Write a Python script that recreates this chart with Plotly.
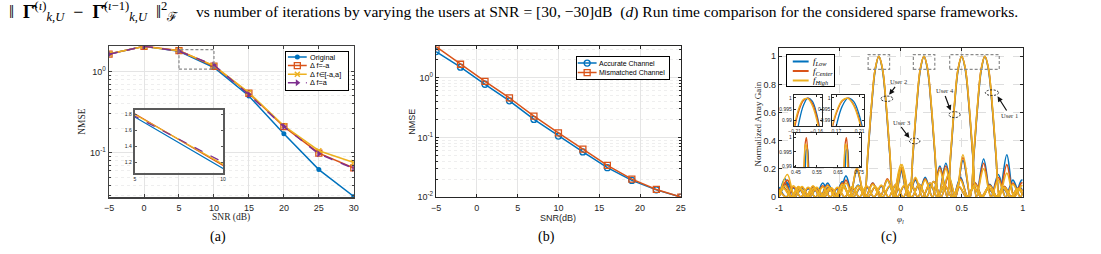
import numpy as np
import plotly.graph_objects as go

# ---------------- data: panel (a) ----------------
snr_a = [-5, 0, 5, 10, 15, 20, 25, 30]
nmse_original = [1.64, 2.04, 1.77, 1.12, 0.50, 0.171, 0.062, 0.029]
nmse_f_neg = [1.64, 2.04, 1.81, 1.16, 0.54, 0.21, 0.099, 0.065]
nmse_f_range = [1.65, 2.03, 1.80, 1.18, 0.55, 0.215, 0.106, 0.076]
nmse_f_pos = [1.63, 2.04, 1.78, 1.20, 0.52, 0.21, 0.097, 0.064]
labels_a = ["Original", "Δ f=-a", "Δ f∈[-a,a]", "Δ f=a"]

# ---------------- data: panel (b) ----------------
snr_b = [-5, -2, 1, 4, 7, 10, 13, 16, 19, 22, 25]
nmse_accurate = [2.74, 1.50, 0.776, 0.41, 0.20, 0.105, 0.057, 0.031, 0.019, 0.0132, 0.0100]
nmse_mismatched = [3.31, 1.68, 0.87, 0.458, 0.227, 0.119, 0.0636, 0.0339, 0.020, 0.0134, 0.0100]
labels_b = ["Accurate Channel", "Mismatched Channel"]

# ---------------- data: panel (c) ----------------
# user beam at phi = -0.18
phi_u2 = [-1.0, -0.96, -0.90, -0.84, -0.78, -0.72, -0.66, -0.60, -0.54, -0.48, -0.42, -0.36, -0.30,
          -0.27, -0.24, -0.21, -0.18, -0.15, -0.12, -0.09, -0.06, 0.0, 0.06, 0.12, 0.18, 0.24, 0.30,
          0.36, 0.42, 0.48, 0.54, 0.60, 0.66, 0.72, 0.78, 0.84, 0.90, 0.96, 1.0]
gain_u2_low = [0.05, 0.07, 0, 0.065, 0, 0.07, 0, 0.10, 0, 0.11, 0, 0.19, 0, 0.30, 0.64, 0.90, 1.0, 0.90,
               0.64, 0.30, 0, 0.19, 0, 0.12, 0, 0.09, 0, 0.08, 0, 0.07, 0, 0.065, 0, 0.06, 0, 0.06, 0, 0.06, 0.02]
gain_u2_ctr = [0.04, 0.065, 0, 0.07, 0, 0.075, 0, 0.085, 0, 0.10, 0, 0.20, 0, 0.31, 0.65, 0.91, 1.0, 0.91,
               0.65, 0.31, 0, 0.21, 0, 0.13, 0, 0.10, 0, 0.085, 0, 0.07, 0, 0.07, 0, 0.065, 0, 0.065, 0, 0.06, 0.02]
gain_u2_high = [0.03, 0.06, 0, 0.075, 0, 0.08, 0, 0.08, 0, 0.09, 0, 0.21, 0, 0.32, 0.66, 0.91, 1.0, 0.91,
                0.66, 0.32, 0, 0.23, 0, 0.14, 0, 0.10, 0, 0.08, 0, 0.075, 0, 0.065, 0, 0.07, 0, 0.065, 0, 0.06, 0.02]
# user beam at phi = 0.19
phi_u3 = [-1.0, -0.95, -0.89, -0.83, -0.77, -0.71, -0.65, -0.59, -0.53, -0.47, -0.41, -0.35, -0.29, -0.23,
          -0.17, -0.11, -0.05, 0.01, 0.07, 0.10, 0.13, 0.16, 0.19, 0.22, 0.25, 0.28, 0.31, 0.37, 0.43, 0.49,
          0.55, 0.61, 0.67, 0.73, 0.79, 0.85, 0.91, 0.97, 1.0]
gain_u3_low = [0, 0.13, 0, 0.06, 0, 0.06, 0, 0.07, 0, 0.07, 0, 0.085, 0, 0.10, 0, 0.12, 0, 0.19, 0, 0.30,
               0.64, 0.90, 1.0, 0.90, 0.64, 0.30, 0, 0.24, 0, 0.14, 0, 0.10, 0, 0.09, 0, 0.075, 0, 0.07, 0.05]
gain_u3_ctr = [0, 0.10, 0, 0.065, 0, 0.06, 0, 0.065, 0, 0.075, 0, 0.08, 0, 0.10, 0, 0.13, 0, 0.21, 0, 0.31,
               0.65, 0.91, 1.0, 0.91, 0.65, 0.31, 0, 0.22, 0, 0.13, 0, 0.10, 0, 0.085, 0, 0.075, 0, 0.065, 0.04]
gain_u3_high = [0, 0.08, 0, 0.07, 0, 0.065, 0, 0.06, 0, 0.08, 0, 0.08, 0, 0.09, 0, 0.12, 0, 0.23, 0, 0.32,
                0.66, 0.91, 1.0, 0.91, 0.66, 0.32, 0, 0.20, 0, 0.12, 0, 0.09, 0, 0.08, 0, 0.07, 0, 0.06, 0.04]
# user beam at phi = 0.50
phi_u4 = [-1.0, -0.94, -0.88, -0.82, -0.76, -0.70, -0.64, -0.58, -0.52, -0.46, -0.40, -0.34, -0.28, -0.22,
          -0.16, -0.10, -0.04, 0.02, 0.08, 0.14, 0.20, 0.26, 0.32, 0.38, 0.41, 0.44, 0.47, 0.50, 0.53, 0.56,
          0.59, 0.62, 0.68, 0.74, 0.80, 0.86, 0.92, 0.98, 1.0]
gain_u4_low = [0.07, 0, 0.065, 0, 0.06, 0, 0.10, 0, 0.06, 0, 0.065, 0, 0.07, 0, 0.075, 0, 0.085, 0, 0.10, 0,
               0.14, 0, 0.22, 0, 0.30, 0.64, 0.90, 1.0, 0.90, 0.64, 0.30, 0, 0.27, 0, 0.16, 0, 0.12, 0, 0.03]
gain_u4_ctr = [0.06, 0, 0.07, 0, 0.065, 0, 0.08, 0, 0.065, 0, 0.07, 0, 0.075, 0, 0.08, 0, 0.09, 0, 0.10, 0,
               0.13, 0, 0.21, 0, 0.31, 0.65, 0.91, 1.0, 0.91, 0.65, 0.31, 0, 0.24, 0, 0.14, 0, 0.10, 0, 0.03]
gain_u4_high = [0.05, 0, 0.08, 0, 0.07, 0, 0.07, 0, 0.07, 0, 0.075, 0, 0.08, 0, 0.085, 0, 0.09, 0, 0.10, 0,
                0.12, 0, 0.19, 0, 0.32, 0.66, 0.91, 1.0, 0.91, 0.66, 0.32, 0, 0.20, 0, 0.12, 0, 0.09, 0, 0.03]
# user beam at phi = 0.69
phi_u1 = [-1.0, -0.93, -0.87, -0.81, -0.75, -0.69, -0.63, -0.57, -0.51, -0.45, -0.39, -0.33, -0.27, -0.21,
          -0.15, -0.09, -0.03, 0.03, 0.09, 0.15, 0.21, 0.27, 0.33, 0.39, 0.45, 0.51, 0.57, 0.60, 0.63, 0.66,
          0.69, 0.72, 0.75, 0.78, 0.81, 0.87, 0.93, 0.99, 1.0]
gain_u1_low = [0, 0.10, 0, 0.065, 0, 0.06, 0, 0.06, 0, 0.15, 0, 0.065, 0, 0.07, 0, 0.075, 0, 0.08, 0, 0.09,
               0, 0.11, 0, 0.15, 0, 0.26, 0, 0.30, 0.64, 0.90, 1.0, 0.90, 0.64, 0.30, 0, 0.30, 0, 0.12, 0.12]
gain_u1_ctr = [0, 0.12, 0, 0.07, 0, 0.065, 0, 0.06, 0, 0.12, 0, 0.07, 0, 0.07, 0, 0.08, 0, 0.08, 0, 0.09,
               0, 0.11, 0, 0.14, 0, 0.28, 0, 0.31, 0.65, 0.91, 1.0, 0.91, 0.65, 0.31, 0, 0.23, 0, 0.10, 0.10]
gain_u1_high = [0, 0.16, 0, 0.075, 0, 0.07, 0, 0.065, 0, 0.10, 0, 0.075, 0, 0.075, 0, 0.08, 0, 0.085, 0, 0.09,
                0, 0.11, 0, 0.16, 0, 0.30, 0, 0.32, 0.66, 0.91, 1.0, 0.91, 0.66, 0.32, 0, 0.17, 0, 0.08, 0.08]

# zoomed peak samples for the insets of panel (c)
zoom1_phi = [-0.22, -0.21, -0.20, -0.19, -0.18, -0.17, -0.16, -0.15, -0.14]
zoom1_low = [0.9612, 0.9775, 0.9894, 0.9968, 0.9999, 0.9986, 0.9929, 0.9828, 0.9682]
zoom1_ctr = [0.976, 0.987, 0.9946, 0.9989, 0.9999, 0.9976, 0.9919, 0.9829, 0.9706]
zoom1_high = [0.9784, 0.9887, 0.9957, 0.9994, 0.9997, 0.9967, 0.9904, 0.9807, 0.9677]
zoom2_phi = [0.16, 0.17, 0.18, 0.19, 0.20, 0.21, 0.22]
zoom2_low = [0.9744, 0.9879, 0.9964, 0.9999, 0.9984, 0.9919, 0.9804]
zoom2_ctr = [0.9839, 0.9933, 0.9987, 0.9999, 0.997, 0.99, 0.979]
zoom2_high = [0.985, 0.994, 0.999, 0.9998, 0.9965, 0.9891, 0.9776]
zoom3_phi = [0.48, 0.485, 0.49, 0.495, 0.50, 0.505, 0.51, 0.515, 0.52, 0.60,
             0.67, 0.675, 0.68, 0.685, 0.69, 0.695, 0.70, 0.705, 0.71]
zoom3_low = [0.942, 0.963, 0.979, 0.990, 0.9956, 0.9961, 0.9914, 0.9815, 0.966, 0.3,
             0.942, 0.963, 0.979, 0.990, 0.9956, 0.9961, 0.9914, 0.9815, 0.966]
zoom3_ctr = [0.962, 0.9796, 0.9916, 0.9983, 0.9999, 0.9963, 0.9874, 0.9734, 0.954, 0.3,
             0.962, 0.9796, 0.9916, 0.9983, 0.9999, 0.9963, 0.9874, 0.9734, 0.954]
zoom3_high = [0.968, 0.9832, 0.9929, 0.9976, 0.9971, 0.9913, 0.9804, 0.9643, 0.943, 0.3,
              0.968, 0.9832, 0.9929, 0.9976, 0.9971, 0.9913, 0.9804, 0.9643, 0.943]
labels_c = ["<i>f</i><sub><i>Low</i></sub>", "<i>f</i><sub><i>Center</i></sub>", "<i>f</i><sub><i>High</i></sub>"]
user_labels = ["User 2", "User 3", "User 4", "User 1"]

# ---------------- styles ----------------
W, H = 1101, 254
BLUE, ORANGE, YELLOW, PURPLE = "#0072BD", "#D95319", "#EDB120", "#7E2F8E"
SANS = "Liberation Sans, Arial, sans-serif"
SERIF = "Liberation Serif, Times New Roman, serif"
TXT = "#262626"


def xd(a, b):
    return [a / W, b / W]


def yd(top, bottom):
    return [1 - bottom / H, 1 - top / H]


fig = go.Figure()

# ---- panel (a)
series_a = [
    (nmse_original, BLUE, "solid", dict(symbol="circle", size=5, color=BLUE)),
    (nmse_f_neg, ORANGE, "solid", dict(symbol="square-open", size=6, color=ORANGE, line=dict(width=1.3))),
    (nmse_f_range, YELLOW, "solid", dict(symbol="x-thin-open", size=5, color=YELLOW, line=dict(width=1.5, color=YELLOW))),
    (nmse_f_pos, PURPLE, "dash", dict(symbol="triangle-right", size=6, color=PURPLE)),
]
for ys, col, dash, mk in series_a:
    fig.add_trace(go.Scatter(x=snr_a, y=ys, mode="lines+markers", xaxis="x", yaxis="y",
                             line=dict(color=col, width=1.5, dash=dash), marker=mk,
                             showlegend=False, hoverinfo="skip"))
for ys, col, dash, mk in series_a:
    fig.add_trace(go.Scatter(x=snr_a, y=ys, mode="lines", xaxis="x4", yaxis="y4",
                             line=dict(color=col, width=1.2, dash=dash),
                             showlegend=False, hoverinfo="skip"))

# ---- panel (b)
series_b = [
    (nmse_accurate, BLUE, dict(symbol="circle-open", size=6, color=BLUE, line=dict(width=1.3))),
    (nmse_mismatched, ORANGE, dict(symbol="square-open", size=6, color=ORANGE, line=dict(width=1.3))),
]
for ys, col, mk in series_b:
    fig.add_trace(go.Scatter(x=snr_b, y=ys, mode="lines+markers", xaxis="x2", yaxis="y2",
                             line=dict(color=col, width=1.5), marker=mk,
                             showlegend=False, hoverinfo="skip"))

# ---- panel (c)
beams = [
    (phi_u2, [gain_u2_low, gain_u2_ctr, gain_u2_high]),
    (phi_u3, [gain_u3_low, gain_u3_ctr, gain_u3_high]),
    (phi_u4, [gain_u4_low, gain_u4_ctr, gain_u4_high]),
    (phi_u1, [gain_u1_low, gain_u1_ctr, gain_u1_high]),
]
cols_c = [BLUE, ORANGE, YELLOW]
for k, col in enumerate(cols_c):
    for phi, gains in beams:
        fig.add_trace(go.Scatter(x=phi, y=gains[k], mode="lines", xaxis="x3", yaxis="y3",
                                 line=dict(color=col, width=1.6, shape="spline", smoothing=1.0),
                                 showlegend=False, hoverinfo="skip"))
zooms = [
    ("5", zoom1_phi, [zoom1_low, zoom1_ctr, zoom1_high]),
    ("6", zoom2_phi, [zoom2_low, zoom2_ctr, zoom2_high]),
    ("7", zoom3_phi, [zoom3_low, zoom3_ctr, zoom3_high]),
]
for ax_id, phi, gains in zooms:
    for k, col in enumerate(cols_c):
        fig.add_trace(go.Scatter(x=phi, y=gains[k], mode="lines", xaxis="x" + ax_id, yaxis="y" + ax_id,
                                 line=dict(color=col, width=1.3, shape="spline"),
                                 showlegend=False, hoverinfo="skip"))

# ---- hand-built legends (small subplots, local pixel coordinates)
leg_a_rows = [5.5, 14.2, 23.0, 31.8]
for (ys, col, dash, mk), row in zip(series_a, leg_a_rows):
    fig.add_trace(go.Scatter(x=[1.5, 20.5], y=[row, row], mode="lines", xaxis="x8", yaxis="y8",
                             line=dict(color=col, width=1.5, dash=dash), showlegend=False, hoverinfo="skip"))
    fig.add_trace(go.Scatter(x=[11], y=[row], mode="markers", xaxis="x8", yaxis="y8",
                             marker=mk, showlegend=False, hoverinfo="skip"))
leg_b_rows = [6.3, 16.0]
for (ys, col, mk), row in zip(series_b, leg_b_rows):
    fig.add_trace(go.Scatter(x=[1.0, 20.0], y=[row, row], mode="lines", xaxis="x9", yaxis="y9",
                             line=dict(color=col, width=1.5), showlegend=False, hoverinfo="skip"))
    fig.add_trace(go.Scatter(x=[10.5], y=[row], mode="markers", xaxis="x9", yaxis="y9",
                             marker=mk, showlegend=False, hoverinfo="skip"))
leg_c_rows = [6.7, 16.5, 26.0]
for col, row in zip(cols_c, leg_c_rows):
    fig.add_trace(go.Scatter(x=[6, 22], y=[row, row], mode="lines", xaxis="x10", yaxis="y10",
                             line=dict(color=col, width=2), showlegend=False, hoverinfo="skip"))

# ---------------- axes ----------------
tickfont = dict(family=SANS, size=9, color=TXT)
smallfont = dict(family=SANS, size=5, color=TXT)


def frame(dom, rng, linecolor=TXT, lw=1.0, **kw):
    d = dict(domain=dom, range=rng, showline=True, linecolor=linecolor, linewidth=lw, mirror="ticks",
             ticks="inside", ticklen=3, tickcolor=linecolor, tickwidth=1, zeroline=False,
             fixedrange=True, tickfont=tickfont)
    d.update(kw)
    return d


minor_a = [0.03, 0.04, 0.05, 0.06, 0.07, 0.08, 0.09, 0.2, 0.3, 0.4, 0.5, 0.6, 0.7, 0.8, 0.9, 2]
minor_b = [0.02, 0.03, 0.04, 0.05, 0.06, 0.07, 0.08, 0.09, 0.2, 0.3, 0.4, 0.5, 0.6, 0.7, 0.8, 0.9, 2, 3]
GRID = "#e4e4e4"

layout_axes = dict(
    xaxis=frame(xd(105, 352), [-5, 30], linecolor="#404040", lw=1.5, anchor="y", ticklabelstandoff=2,
                tickvals=[-5, 0, 5, 10, 15, 20, 25, 30], showgrid=True, gridcolor=GRID),
    yaxis=frame(yd(47, 201), [-1.545, 0.313], linecolor="#404040", lw=1.5, anchor="x", type="log",
                tickvals=[0.1, 1], ticktext=["10<sup>-1</sup>", "10<sup>0</sup>"], showgrid=True, gridcolor=GRID,
                minor=dict(tickvals=minor_a, ticks="inside", ticklen=2, tickcolor="#404040",
                           showgrid=True, gridcolor="#eeeeee", griddash="dot")),
    xaxis2=frame(xd(435, 682), [-5, 25], anchor="y2", tickvals=[-5, 0, 5, 10, 15, 20, 25],
                 showgrid=True, gridcolor=GRID, lw=1.2, ticklabelstandoff=2),
    yaxis2=frame(yd(47, 201), [-2, 0.53], anchor="x2", type="log", lw=1.2,
                 tickvals=[0.01, 0.1, 1], ticktext=["10<sup>-2</sup>", "10<sup>-1</sup>", "10<sup>0</sup>"],
                 showgrid=True, gridcolor=GRID,
                 minor=dict(tickvals=minor_b, ticks="inside", ticklen=2, tickcolor=TXT,
                            showgrid=True, gridcolor="#eeeeee", griddash="dot")),
    xaxis3=frame(xd(781, 1027), [-1, 1], anchor="y3", tickvals=[-1, -0.5, 0, 0.5, 1], ticklabelstandoff=2,
                 ticktext=["-1", "-0.5", "0", "0.5", "1"], showgrid=True, gridcolor="#dedede", griddash="dash"),
    yaxis3=frame(yd(49, 201), [0, 1.058], anchor="x3", tickvals=[0, 0.2, 0.4, 0.6, 0.8, 1],
                 ticktext=["0", "0.2", "0.4", "0.6", "0.8", "1"], showgrid=True, gridcolor="#dedede", griddash="dash"),
    # inset (a)
    xaxis4=frame(xd(131, 220), [5, 10], linecolor="#5a5a5a", lw=2, anchor="y4", tickvals=[5, 10],
                 tickfont=smallfont, ticklen=2, showgrid=False),
    yaxis4=frame(yd(112, 176), [1.07, 1.86], linecolor="#5a5a5a", lw=2, anchor="x4",
                 tickvals=[1.2, 1.4, 1.6, 1.8], tickfont=smallfont, ticklen=2, showgrid=False),
    # insets (c)
    xaxis5=frame(xd(796, 824), [-0.212, -0.149], anchor="y5", tickvals=[-0.21, -0.16],
                 tickfont=smallfont, ticklen=2, showgrid=False),
    yaxis5=frame(yd(96.5, 128.5), [0.9876, 1.0015], anchor="x5", tickvals=[0.99, 0.995, 1],
                 ticktext=["0.99", "0.995", "1"], tickfont=smallfont, ticklen=2, showgrid=False),
    xaxis6=frame(xd(835, 866.5), [0.163, 0.217], anchor="y6", tickvals=[0.17, 0.21],
                 tickfont=smallfont, ticklen=2, showgrid=False),
    yaxis6=frame(yd(96.5, 128.5), [0.9876, 1.0015], anchor="x6", tickvals=[0.99, 0.995, 1],
                 ticktext=["0.99", "0.995", "1"], tickfont=smallfont, ticklen=2, showgrid=False),
    xaxis7=frame(xd(796, 864), [0.44, 0.76], anchor="y7", tickvals=[0.45, 0.55, 0.65, 0.75],
                 tickfont=smallfont, ticklen=2, showgrid=False),
    yaxis7=frame(yd(135.7, 170.7), [0.9896, 1.0015], anchor="x7", tickvals=[0.99, 0.995, 1],
                 ticktext=["0.99", "0.995", "1"], tickfont=smallfont, ticklen=2, showgrid=False),
)


def legend_axes(box, xa):
    x0, y0, x1, y1 = box
    common = dict(showline=True, linecolor="#000000", linewidth=1, mirror=True, ticks="",
                  showticklabels=False, showgrid=False, zeroline=False, fixedrange=True)
    layout_axes["xaxis" + xa] = dict(domain=xd(x0, x1), range=[0, x1 - x0], anchor="y" + xa, **common)
    layout_axes["yaxis" + xa] = dict(domain=yd(y0, y1), range=[y1 - y0, 0], anchor="x" + xa, **common)


LEG_A = (284, 52.7, 346, 91.7)
LEG_B = (577, 58, 670, 80.7)
LEG_C = (789, 56, 837, 88)
legend_axes(LEG_A, "8")
legend_axes(LEG_B, "9")
legend_axes(LEG_C, "10")

annotations = []
# legend texts
for lab, row in zip(labels_a, leg_a_rows):
    annotations.append(dict(x=21.5, y=row, xref="x8", yref="y8", text=lab, showarrow=False,
                            xanchor="left", yanchor="middle", font=dict(family=SANS, size=7.3, color="#000")))
for lab, row in zip(labels_b, leg_b_rows):
    annotations.append(dict(x=20.5, y=row, xref="x9", yref="y9", text=lab, showarrow=False,
                            xanchor="left", yanchor="middle", font=dict(family=SANS, size=7.0, color="#000")))
for lab, row in zip(labels_c, leg_c_rows):
    annotations.append(dict(x=24, y=row, xref="x10", yref="y10", text=lab, showarrow=False,
                            xanchor="left", yanchor="middle", font=dict(family=SERIF, size=9, color="#000")))

SP = "\u2002"
caption_math = ("‖" + SP + "<b>Γ̂</b><sup>(<i>ι</i>)</sup><sub><i>k</i>,<i>U</i></sub>" + SP + "−" + SP
                + "<b>Γ̂</b><sup>(<i>ι</i>−1)</sup><sub><i>k</i>,<i>U</i></sub>" + SP + "‖<sup>2</sup><sub>ℱ</sub>")
caption_text = ("vs number of iterations by varying the users at SNR = [30, −30]dB  (<i>d</i>) "
                "Run time comparison for the considered sparse frameworks.")

# axis titles and captions
annotations += [
    dict(x=228.5 / W, y=1 - 222 / H, text="SNR (dB)", font=dict(family=SERIF, size=9.5, color=TXT)),
    dict(x=77 / W, y=1 - 124 / H, text="NMSE", textangle=-90, font=dict(family=SERIF, size=9.5, color=TXT)),
    dict(x=558.5 / W, y=1 - 222 / H, text="SNR(dB)", font=dict(family=SANS, size=9, color=TXT)),
    dict(x=410 / W, y=1 - 124 / H, text="NMSE", textangle=-90, font=dict(family=SANS, size=9, color=TXT)),
    dict(x=904 / W, y=1 - 224 / H, text="<i>φ<sub>l</sub></i>", font=dict(family=SERIF, size=9, color=TXT)),
    dict(x=759 / W, y=1 - 127 / H, text="Normalized Array Gain", textangle=-90,
         font=dict(family=SERIF, size=9, color=TXT)),
    dict(x=215 / W, y=1 - 242 / H, text="(a)", font=dict(family=SERIF, size=14, color="#000")),
    dict(x=546 / W, y=1 - 242 / H, text="(b)", font=dict(family=SERIF, size=14, color="#000")),
    dict(x=892 / W, y=1 - 242 / H, text="(c)", font=dict(family=SERIF, size=14, color="#000")),
    dict(x=2 / W, y=1 - 12 / H, xanchor="left", text=caption_math,
         font=dict(family=SERIF, size=18, color="#000")),
    dict(x=191 / W, y=1 - 12 / H, xanchor="left", text=caption_text,
         font=dict(family=SERIF, size=15.6, color="#000")),
]
for a in annotations:
    if "xref" not in a:
        a.update(xref="paper", yref="paper", showarrow=False)
        a.setdefault("xanchor", "center")
        a.setdefault("yanchor", "middle")

# user annotations in panel (c): text labels
user_text_pos = [(-0.019, 0.819), (0.006, 0.529), (0.360, 0.757), (0.892, 0.582)]
for lab, (px, py) in zip(user_labels, user_text_pos):
    annotations.append(dict(x=px, y=py, xref="x3", yref="y3", text=lab, showarrow=False,
                            font=dict(family=SERIF, size=6.5, color="#333")))
# arrows (head in data, tail offset in px)
arrows = [(-0.095, 0.726, 7, -9.4), (0.071, 0.42, -9.4, -12.4), (0.409, 0.614, -6, -16), (0.794, 0.715, 10, 15.7)]
for hx, hy, ax, ay in arrows:
    annotations.append(dict(x=hx, y=hy, xref="x3", yref="y3", ax=ax, ay=ay, text="", showarrow=True,
                            arrowhead=2, arrowsize=0.9, arrowwidth=1.2, arrowcolor="#111",
                            standoff=0, startstandoff=0))

shapes = []
# dashed ellipses
ellipses = [(-0.114, 0.698, 0.049, 0.019), (0.114, 0.398, 0.043, 0.02),
            (0.441, 0.585, 0.046, 0.021), (0.748, 0.741, 0.054, 0.02)]
for cx, cy, rx, ry in ellipses:
    shapes.append(dict(type="circle", xref="x3", yref="y3", x0=cx - rx, x1=cx + rx, y0=cy - ry, y1=cy + ry,
                       line=dict(color="#222", width=1, dash="2px,1.5px"), layer="above"))
# dashed zoom rectangles in panel (c)
for x0, x1 in [(-0.268, -0.092), (0.103, 0.279), (0.401, 0.808)]:
    shapes.append(dict(type="rect", xref="x3", yref="y3", x0=x0, x1=x1, y0=0.907, y1=1.011,
                       line=dict(color="#8a8a8a", width=1.2, dash="3px,2px"), layer="above"))
# dashed zoom rectangle in panel (a)
shapes.append(dict(type="rect", xref="x", yref="y", x0=5, x1=10, y0=1.07, y1=1.86,
                   line=dict(color="#8a8a8a", width=1.2, dash="3px,2px"), layer="above"))

fig.update_layout(
    width=W, height=H, margin=dict(l=0, r=0, t=0, b=0),
    paper_bgcolor="#ffffff", plot_bgcolor="#fffffe",
    showlegend=False, annotations=annotations, shapes=shapes,
    **layout_axes,
)

fig.write_html("out.html", config=dict(displayModeBar=False, staticPlot=True))
